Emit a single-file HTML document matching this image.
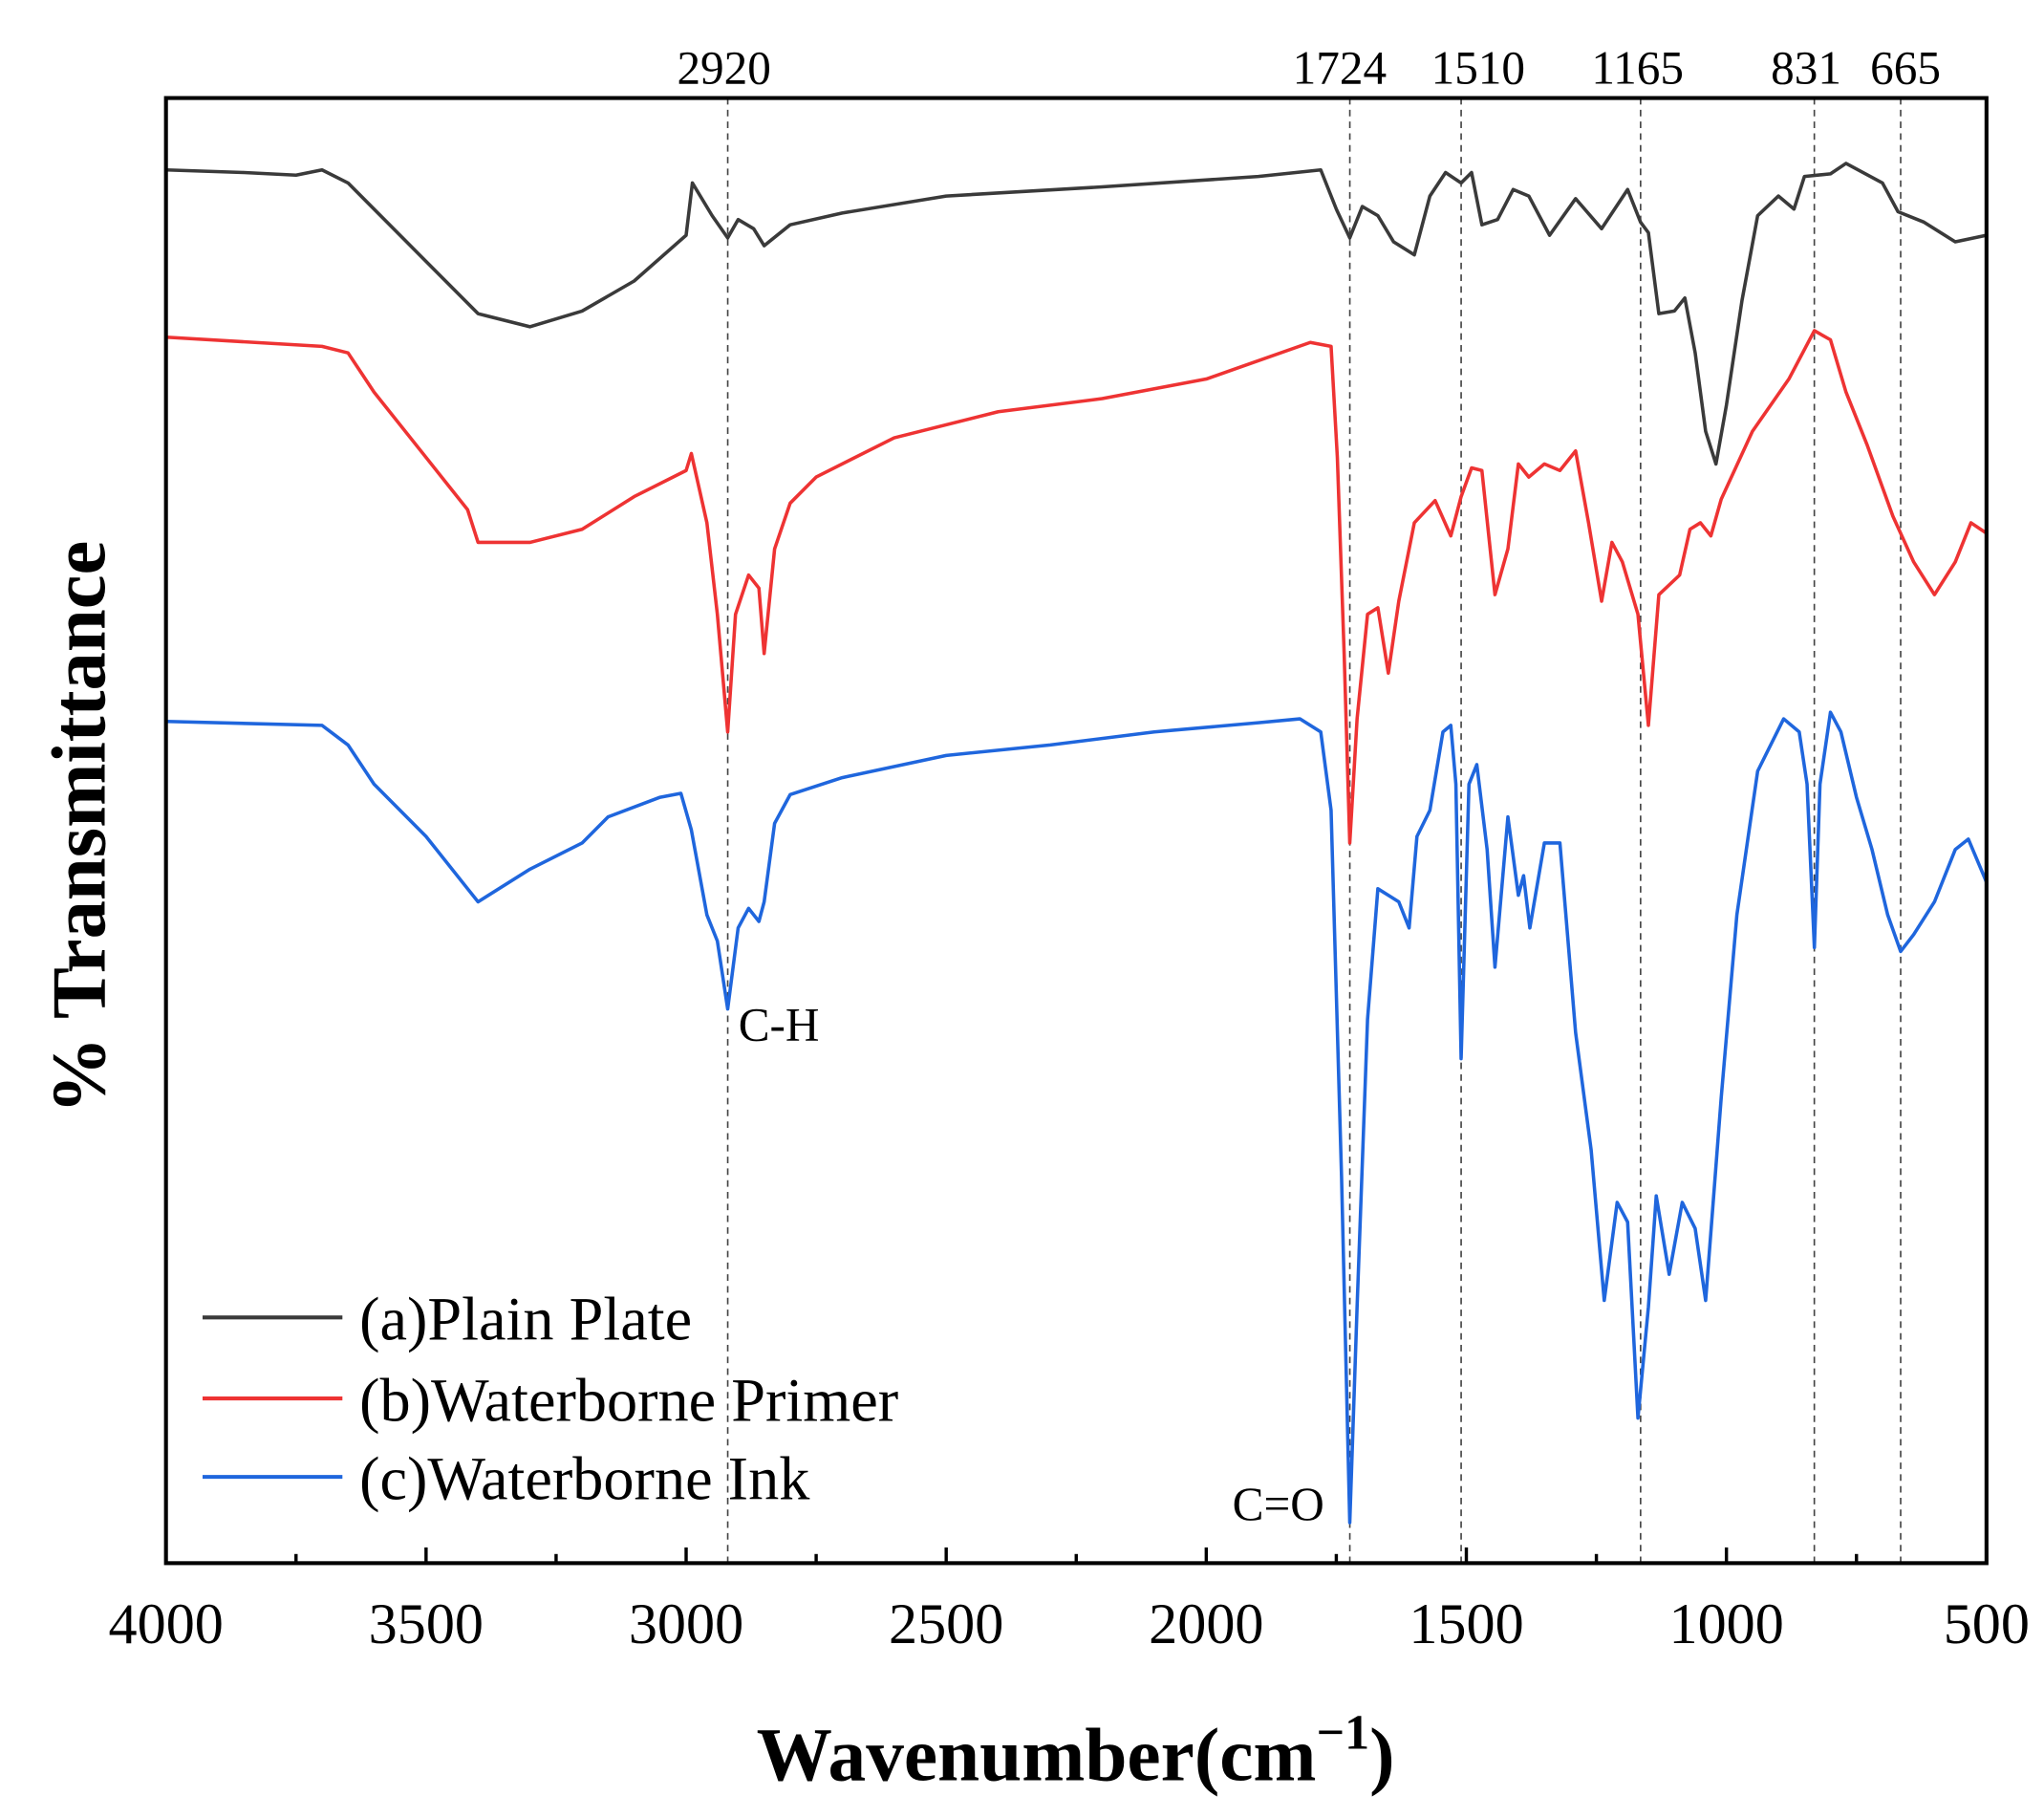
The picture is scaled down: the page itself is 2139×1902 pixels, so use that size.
<!DOCTYPE html>
<html><head><meta charset="utf-8"><style>
html,body{margin:0;padding:0;background:#fff;}
svg{display:block;}
text{font-family:"Liberation Serif",serif;fill:#000;}
</style></head><body>
<svg id="s" width="2139" height="1902" viewBox="0 0 1564 1391" preserveAspectRatio="none" xmlns="http://www.w3.org/2000/svg">
<rect x="0" y="0" width="1564" height="1391" fill="#fff"/>
<g id="dash" stroke="#444" stroke-width="1.2" stroke-dasharray="5,4"></g>
<g id="curves" fill="none" stroke-width="2.6" stroke-linejoin="round"></g>
<rect x="127" y="75" width="1393" height="1121" fill="none" stroke="#000" stroke-width="3"/>
<g id="ticks" stroke="#000" stroke-width="2.5"></g>
<g id="labels" font-size="44" text-anchor="middle"></g>
<g font-size="36" text-anchor="middle">
<text x="554" y="64">2920</text><text x="1025" y="64">1724</text><text x="1131" y="64">1510</text>
<text x="1253" y="64">1165</text><text x="1382" y="64">831</text><text x="1458" y="64">665</text>
</g>
<text x="565" y="796" font-size="36">C-H</text>
<text x="943" y="1163" font-size="36">C=O</text>
<line x1="155" y1="1008" x2="262" y2="1008" stroke="#3a3a3a" stroke-width="3"/>
<line x1="155" y1="1070" x2="262" y2="1070" stroke="#ee3333" stroke-width="3"/>
<line x1="155" y1="1130" x2="262" y2="1130" stroke="#1f66dd" stroke-width="3"/>
<g font-size="47"><text x="275" y="1025">(a)Plain Plate</text><text x="275" y="1087">(b)Waterborne Primer</text><text x="275" y="1147">(c)Waterborne Ink</text></g>
<text x="823" y="1362" font-size="58" font-weight="bold" text-anchor="middle">Wavenumber(cm<tspan dy="-24" font-size="38">−1</tspan><tspan dy="24">)</tspan></text>
<text transform="translate(80,633) rotate(-90)" font-size="59" font-weight="bold" text-anchor="middle">% Transmittance</text>
</svg>
<script>
var NS="http://www.w3.org/2000/svg";
function X(w){return 127+(4000-w)*1393/3500;}
function el(p,t,a){var e=document.createElementNS(NS,t);for(var k in a)e.setAttribute(k,a[k]);p.appendChild(e);return e;}
var d=document.getElementById('dash');
[2920,1724,1510,1165,831,665].forEach(function(w){el(d,'line',{x1:X(w),x2:X(w),y1:75,y2:1196});});
var tk=document.getElementById('ticks'),lb=document.getElementById('labels');
for(var w=4000;w>=500;w-=250){var maj=(w%500==0);el(tk,'line',{x1:X(w),x2:X(w),y1:1196,y2:1196-(maj?12:7)});
if(maj){var t=el(lb,'text',{x:X(w),y:1257});t.textContent=w;}}
var A=[4000,130,3850,132,3750,134,3700,130,3650,140,3500,200,3400,240,3300,250,3200,238,3100,215,3000,180,2988,140,2950,165,2920,182,2900,168,2870,175,2850,188,2800,172,2700,163,2500,150,2200,143,1900,135,1780,130,1750,160,1724,182,1700,158,1670,165,1640,185,1600,195,1570,150,1540,132,1510,140,1490,132,1470,172,1440,168,1410,145,1380,150,1340,180,1290,152,1240,175,1190,145,1165,170,1150,178,1130,240,1100,238,1080,228,1060,270,1040,330,1020,355,1000,310,970,230,940,165,900,150,870,160,850,135,800,133,770,125,700,140,670,162,620,170,560,185,500,180];
var B=[4000,258,3700,265,3650,270,3600,300,3500,350,3420,390,3400,415,3300,415,3200,405,3100,380,3000,360,2990,347,2960,400,2940,470,2920,560,2905,470,2880,440,2860,450,2850,500,2830,420,2800,385,2750,365,2600,335,2400,315,2200,305,2000,290,1800,262,1760,265,1748,350,1735,500,1724,645,1710,550,1690,470,1670,465,1650,515,1630,460,1600,400,1560,383,1530,410,1510,380,1490,358,1470,360,1445,455,1420,420,1400,355,1380,365,1350,355,1320,360,1290,345,1265,400,1240,460,1220,415,1200,430,1170,470,1150,555,1130,455,1090,440,1070,405,1050,400,1030,410,1010,382,950,330,880,290,831,253,800,260,770,300,730,340,680,395,640,430,600,455,560,430,530,400,500,408];
var C=[4000,552,3700,555,3650,570,3600,600,3500,640,3420,680,3400,690,3300,665,3200,645,3150,625,3050,610,3010,607,2990,635,2960,700,2940,720,2920,772,2900,710,2880,695,2860,705,2850,690,2830,630,2800,608,2700,595,2500,578,2300,570,2100,560,1900,553,1820,550,1780,560,1760,620,1740,900,1724,1165,1710,1000,1690,780,1670,680,1650,685,1630,690,1610,710,1595,640,1570,620,1545,560,1530,555,1520,600,1510,810,1495,600,1480,585,1460,650,1445,740,1420,625,1400,685,1390,670,1378,710,1350,645,1320,645,1290,790,1260,880,1235,995,1210,920,1190,935,1170,1085,1150,1000,1135,915,1110,975,1085,920,1060,940,1040,995,1010,840,980,700,940,590,890,550,860,560,845,600,831,725,820,600,800,545,780,560,750,610,720,650,690,700,665,728,640,715,600,690,560,650,535,642,500,675];
var cv=document.getElementById('curves');
[[A,'#3a3a3a'],[B,'#ee3333'],[C,'#1f66dd']].forEach(function(p){var s=[];for(var i=0;i<p[0].length;i+=2)s.push(X(p[0][i]).toFixed(1)+','+p[0][i+1]);el(cv,'polyline',{points:s.join(' '),stroke:p[1]});});
</script>
</body></html>
